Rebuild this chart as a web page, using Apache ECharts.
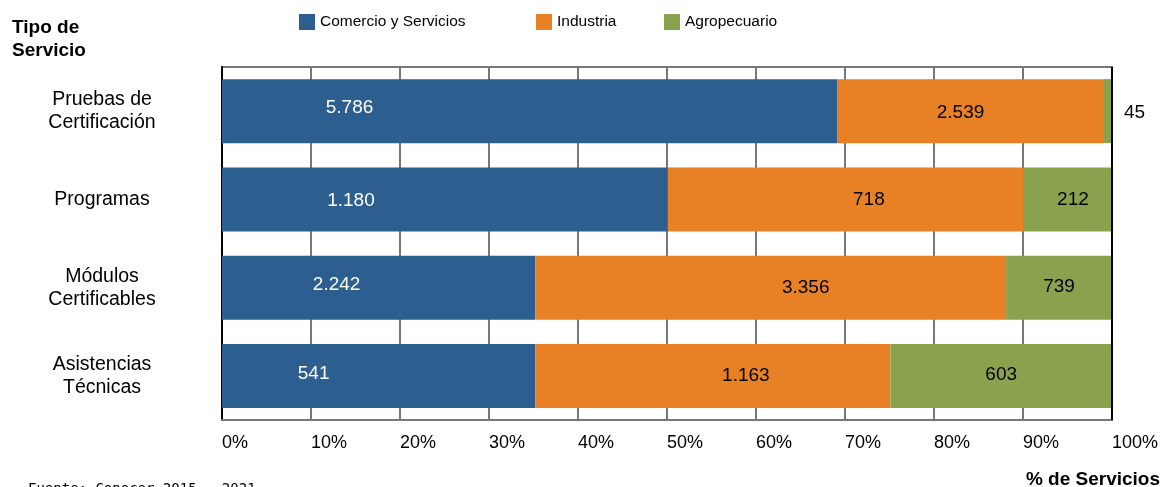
<!DOCTYPE html>
<html>
<head>
<meta charset="utf-8">
<script src="https://cdn.jsdelivr.net/npm/echarts@6/dist/echarts.min.js"></script>
<style>
html,body{margin:0;padding:0;background:#fff;}
#chart{width:1163px;height:487px;}
</style>
</head>
<body>
<div id="chart"></div>
<script>
// ---- Data ----
const categories = ['Pruebas de\nCertificación', 'Programas', 'Módulos\nCertificables', 'Asistencias\nTécnicas'];
const seriesNames = ['Comercio y Servicios', 'Industria', 'Agropecuario'];
// Share of services (%) per category, as drawn
const comercioPct = [69.1, 50.1, 35.2, 35.2];
const industriaPct = [30.0, 40.0, 52.9, 39.9];
const agroPct = [0.9, 9.9, 11.9, 24.9];
// Count labels shown on bars
const comercioCount = ['5.786', '1.180', '2.242', '541'];
const industriaCount = ['2.539', '718', '3.356', '1.163'];
const agroCount = ['45', '212', '739', '603'];
const xTicks = [0, 10, 20, 30, 40, 50, 60, 70, 80, 90, 100];

// ---- Style ----
const colors = ['#2C5F8F', '#E88026', '#8AA24E'];
const labelShiftX = [
  [-180, -94, -42, -65],
  [-10, 23, 35, 33],
  [6, 5, 0, 0]
];
const labelShiftY = [
  [-3, 1, -3, -2],
  [2, 0, 0, 0],
  [2, 0, -1, -1]
];
const FONT = '"Liberation Sans", Arial, Helvetica, sans-serif';

const pcts = [comercioPct, industriaPct, agroPct];
const counts = [comercioCount, industriaCount, agroCount];

const series = seriesNames.map((name, s) => ({
  name: name,
  type: 'bar',
  stack: 'total',
  barWidth: 64,
  itemStyle: { color: colors[s] },
  data: pcts[s].map((v, i) => {
    const outside = (s === 2 && i === 0);
    return {
      value: v,
      label: outside ? {
        show: true, position: 'right', distance: 12, offset: [0, labelShiftY[s][i]],
        formatter: counts[s][i], color: '#000', fontSize: 19, fontFamily: FONT
      } : {
        show: true, position: 'inside', offset: [labelShiftX[s][i], labelShiftY[s][i]],
        formatter: counts[s][i], color: s === 0 ? '#fff' : '#000', fontSize: 19, fontFamily: FONT
      }
    };
  })
}));

const legendLefts = [299, 536, 664];
const legends = seriesNames.map((n, i) => ({
  data: [n],
  left: legendLefts[i],
  top: 14,
  padding: 0,
  icon: 'rect',
  itemWidth: 16,
  itemHeight: 16,
  itemGap: 4,
  selectedMode: false,
  textStyle: { fontSize: 15.5, color: '#000', fontFamily: FONT }
}));

const chart = echarts.init(document.getElementById('chart'));
chart.setOption({
  animation: false,
  backgroundColor: '#fff',
  color: colors,
  legend: legends,
  grid: {
    left: 222, right: 51, top: 67, bottom: 67,
    show: true, borderColor: '#777', borderWidth: 2, backgroundColor: 'transparent'
  },
  xAxis: {
    type: 'value',
    min: xTicks[0],
    max: xTicks[xTicks.length - 1],
    interval: 10,
    axisLine: { show: true, lineStyle: { color: '#777', width: 2 } },
    axisTick: { show: false },
    splitLine: { show: true, lineStyle: { color: '#777', width: 2 } },
    axisLabel: {
      formatter: '{value}%', align: 'left', margin: 14,
      fontSize: 18, color: '#000', fontFamily: FONT
    }
  },
  yAxis: {
    type: 'category',
    inverse: true,
    data: categories,
    axisLine: { show: true, lineStyle: { color: '#000', width: 2 } },
    axisTick: { show: false },
    axisLabel: {
      align: 'center', margin: 120, fontSize: 19.5, lineHeight: 23,
      padding: [0, 0, 13, 0],
      color: '#000', fontFamily: FONT
    }
  },
  series: series,
  graphic: [
    { type: 'line', shape: { x1: 1112, y1: 67, x2: 1112, y2: 420 }, style: { stroke: '#000', lineWidth: 2 }, z: 10 },
    { type: 'text', left: 12, top: 16, style: { text: 'Tipo de\nServicio', fontSize: 19, fontWeight: 'bold', lineHeight: 23, fill: '#000', fontFamily: FONT } },
    { type: 'text', right: 3, top: 470, style: { text: '% de Servicios', fontSize: 19, fontWeight: 'bold', fill: '#000', fontFamily: FONT } },
    { type: 'text', left: 28, top: 482, style: { text: 'Fuente: Conocer 2015 - 2021', fontSize: 14, fill: '#000', fontFamily: '"DejaVu Sans Mono", monospace' } }
  ]
});
</script>
</body>
</html>
